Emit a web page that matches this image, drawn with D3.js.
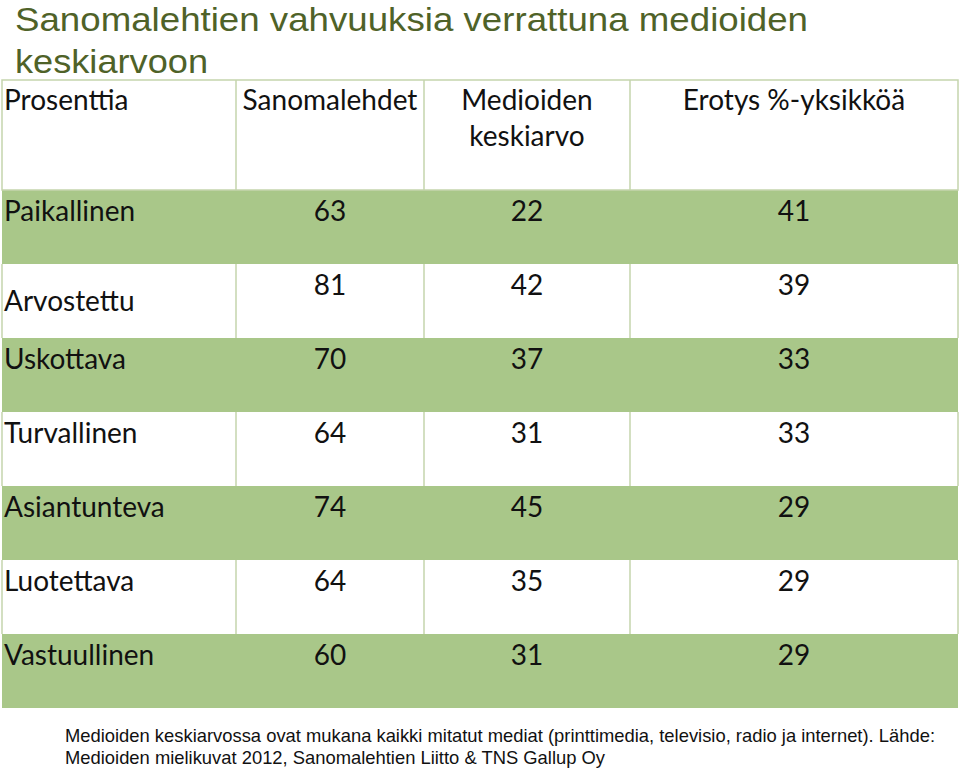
<!DOCTYPE html>
<html><head><meta charset="utf-8">
<script src="https://cdn.jsdelivr.net/npm/d3@7"></script>
<style>body{margin:0;background:#fff}svg{display:block}</style>
</head><body>
<svg id="c" width="960" height="768"></svg>
<script>
const title = ["Sanomalehtien vahvuuksia verrattuna medioiden", "keskiarvoon"];
const headers = [["Prosenttia"], ["Sanomalehdet"], ["Medioiden", "keskiarvo"], ["Erotys %-yksikköä"]];
const categories = ["Paikallinen", "Arvostettu", "Uskottava", "Turvallinen", "Asiantunteva", "Luotettava", "Vastuullinen"];
const sanomalehdet = [63, 81, 70, 64, 74, 64, 60];
const medioiden = [22, 42, 37, 31, 45, 35, 31];
const erotys = [41, 39, 33, 33, 29, 29, 29];
const footnote = ["Medioiden keskiarvossa ovat mukana kaikki mitatut mediat (printtimedia, televisio, radio ja internet). Lähde:",
                  "Medioiden mielikuvat 2012, Sanomalehtien Liitto & TNS Gallup Oy"];

const svg = d3.select("#c");
const green = "#a9c789", border = "#c5d5ad", textCol = "#111";
const bodyFont = "Lato, 'Open Sans', sans-serif";
const fs = 28;

// title
const titleLen = [793, 193];
svg.selectAll("text.title").data(title).join("text")
  .attr("class", "title")
  .attr("x", 15).attr("y", (d, i) => 31 + i * 42)
  .attr("font-family", "'Liberation Sans', Arial, sans-serif")
  .attr("font-size", 34).attr("fill", "#4f6228")
  .attr("textLength", (d, i) => titleLen[i]).attr("lengthAdjust", "spacingAndGlyphs")
  .text(d => d);

// layout scales
const colEdges = [2, 236, 424, 630, 958];
const colX = d3.scaleOrdinal().domain([0,1,2,3]).range(colEdges.slice(0,4));
const colW = i => colEdges[i+1] - colEdges[i];
const rowY = d3.scaleBand().domain(categories).range([190, 708]);
const headerTop = 80, headerBottom = 190;

const rows = categories.map((c, i) => ({cat: c, vals: [sanomalehdet[i], medioiden[i], erotys[i]], i}));

// backgrounds
svg.selectAll("rect.row").data(rows).join("rect")
  .attr("class", "row")
  .attr("x", colEdges[0]).attr("width", colEdges[4] - colEdges[0])
  .attr("y", d => rowY(d.cat)).attr("height", rowY.bandwidth())
  .attr("fill", d => d.i % 2 === 0 ? green : "#fff");

// borders
const hg = svg.append("g").attr("stroke", border).attr("stroke-width", 1.5).attr("fill", "none");
hg.append("rect").attr("x", colEdges[0]).attr("y", headerTop)
  .attr("width", colEdges[4] - colEdges[0]).attr("height", headerBottom - headerTop);
[1,2,3].forEach(k => {
  hg.append("line").attr("x1", colEdges[k]).attr("x2", colEdges[k]).attr("y1", headerTop).attr("y2", headerBottom);
});
rows.filter(r => r.i % 2 === 1).forEach(r => {
  const y0 = rowY(r.cat), y1 = y0 + rowY.bandwidth();
  colEdges.forEach(x => hg.append("line").attr("x1", x).attr("x2", x).attr("y1", y0).attr("y2", y1));
});

// header text
headers.forEach((h, k) => {
  h.forEach((line, j) => {
    svg.append("text")
      .attr("x", k === 0 ? colX(k) + 2 : colX(k) + colW(k) / 2)
      .attr("y", 110 + j * 36)
      .attr("text-anchor", k === 0 ? "start" : "middle")
      .attr("font-family", bodyFont).attr("font-size", fs).attr("fill", textCol).text(line);
  });
});

// body text
rows.forEach(r => {
  const y0 = rowY(r.cat);
  const labelY = r.cat === "Arvostettu" ? y0 + rowY.bandwidth() / 2 + 10 : y0 + 31;
  svg.append("text").attr("x", colX(0) + 2).attr("y", labelY)
    .attr("font-family", bodyFont).attr("font-size", fs).attr("fill", textCol).text(r.cat);
  r.vals.forEach((v, j) => {
    svg.append("text").attr("x", colX(j+1) + colW(j+1) / 2).attr("y", y0 + 31)
      .attr("text-anchor", "middle")
      .attr("font-family", bodyFont).attr("font-size", fs).attr("fill", textCol).text(v);
  });
});

// footnote
const footLen = [870, 540];
svg.selectAll("text.foot").data(footnote).join("text")
  .attr("class", "foot")
  .attr("x", 65).attr("y", (d, i) => 742 + i * 22)
  .attr("font-family", "'Liberation Sans', Arial, sans-serif")
  .attr("font-size", 18.5).attr("fill", "#111")
  .attr("textLength", (d, i) => footLen[i]).attr("lengthAdjust", "spacingAndGlyphs")
  .text(d => d);
</script>
</body></html>
